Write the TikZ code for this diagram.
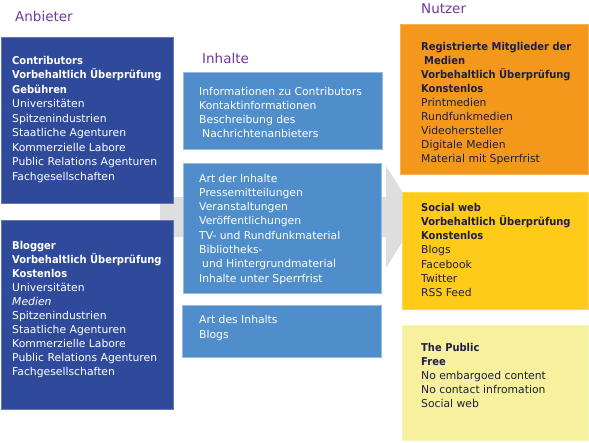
\documentclass[tikz,border=0pt]{standalone}
\usepackage{fontspec}
\setmainfont{DejaVu Sans}
\newfontfamily\bfnt{DejaVu Sans Bold}[FakeStretch=0.92]
\definecolor{darkbox}{RGB}{48,74,155}
\definecolor{midbox}{RGB}{80,142,203}
\definecolor{orangebox}{RGB}{243,152,26}
\definecolor{yellowbox}{RGB}{254,203,26}
\definecolor{palebox}{RGB}{247,240,158}
\definecolor{arrowgray}{RGB}{222,222,222}
\definecolor{titlepurple}{RGB}{112,56,160}
\definecolor{navytext}{RGB}{30,30,70}
\newcommand\stk[2]{\vtop{\baselineskip=#1pt\lineskiplimit=-20pt\lineskip=0pt\halign{##\hfil\cr#2\crcr}}}
\begin{document}
\begin{tikzpicture}[x=1pt,y=-1pt,
  boxbase/.style={rectangle,anchor=north west,inner sep=0pt,outer sep=0pt,line width=0.8pt},
  darkb/.style={boxbase,fill=darkbox,draw=darkbox!75!white},
  midb/.style={boxbase,fill=midbox,draw=midbox!60!white},
  orangeb/.style={boxbase,fill=orangebox,draw=orangebox!75!white},
  yellowb/.style={boxbase,fill=yellowbox,draw=yellowbox!75!white},
  paleb/.style={boxbase,fill=palebox,draw=palebox!75!white},
  txt/.style={anchor=base west,inner sep=0pt,font=\fontsize{10.8}{14}\selectfont},
  wtxt/.style={txt,text=white},
  ntxt/.style={txt,text=navytext},
  ttl/.style={anchor=base west,inner sep=0pt,text=titlepurple,font=\fontsize{13.5}{16}\selectfont}]
\useasboundingbox[fill=white] (0,0) rectangle (589,442);
% gray arrow
\fill[arrowgray] (160,197) -- (386,197) -- (386,166) -- (418,217) -- (386,268) -- (386,237) -- (160,237) -- cycle;
% titles
\node[ttl] (tanb) at (15,21) {Anbieter};
\node[ttl] (tinh) at (202,63) {Inhalte};
\node[ttl] (tnut) at (421,13) {Nutzer};
% boxes
\node[darkb,minimum width=172pt,minimum height=166pt] (b1) at (1,37) {};
\node[darkb,minimum width=172pt,minimum height=189pt] (b2) at (1,220) {};
\node[midb,minimum width=199pt,minimum height=77pt] (ba) at (183,72) {};
\node[midb,minimum width=198pt,minimum height=130pt] (bb) at (183,163) {};
\node[midb,minimum width=199pt,minimum height=52pt] (bc) at (182,305) {};
\node[orangeb,minimum width=188pt,minimum height=150pt] (bo) at (400,24) {};
\node[yellowb,minimum width=186pt,minimum height=117pt] (by) at (402,192) {};
\node[paleb,minimum width=186pt,minimum height=115pt] (bp) at (402,325) {};
% texts
\node[wtxt] (x1) at (12,64) {\stk{14.5}{\bfnt Contributors\cr
\bfnt Vorbehaltlich Überprüfung\cr
\bfnt Gebühren\cr
Universitäten\cr
Spitzenindustrien\cr
Staatliche Agenturen\cr
Kommerzielle Labore\cr
Public Relations Agenturen\cr
Fachgesellschaften}};
\node[wtxt] (x2) at (12,249) {\stk{14.1}{\bfnt Blogger\cr
\bfnt Vorbehaltlich Überprüfung\cr
\bfnt Kostenlos\cr
Universitäten\cr
\itshape Medien\cr
Spitzenindustrien\cr
Staatliche Agenturen\cr
Kommerzielle Labore\cr
Public Relations Agenturen\cr
Fachgesellschaften}};
\node[wtxt] (xa) at (199,95) {\stk{14}{Informationen zu Contributors\cr
Kontaktinformationen\cr
Beschreibung des\cr
\hspace{3pt}Nachrichtenanbieters}};
\node[wtxt] (xb) at (199,182) {\stk{14.3}{Art der Inhalte\cr
Pressemitteilungen\cr
Veranstaltungen\cr
Veröffentlichungen\cr
TV- und Rundfunkmaterial\cr
Bibliotheks-\cr
\hspace{3pt}und Hintergrundmaterial\cr
Inhalte unter Sperrfrist}};
\node[wtxt] (xc) at (199,323) {\stk{15}{Art des Inhalts\cr
Blogs}};
\node[ntxt] (xo) at (421,50) {\stk{14.1}{\bfnt Registrierte Mitglieder der\cr
\bfnt\hspace{3pt}Medien\cr
\bfnt Vorbehaltlich Überprüfung\cr
\bfnt Konstenlos\cr
Printmedien\cr
Rundfunkmedien\cr
Videohersteller\cr
Digitale Medien\cr
Material mit Sperrfrist}};
\node[ntxt] (xy) at (421,211) {\stk{14.3}{\bfnt Social web\cr
\bfnt Vorbehaltlich Überprüfung\cr
\bfnt Konstenlos\cr
Blogs\cr
Facebook\cr
Twitter\cr
RSS Feed}};
\node[ntxt] (xp) at (421,351) {\stk{14}{\bfnt The Public\cr
\bfnt Free\cr
No embargoed content\cr
No contact infromation\cr
Social web}};
\end{tikzpicture}
\end{document}
